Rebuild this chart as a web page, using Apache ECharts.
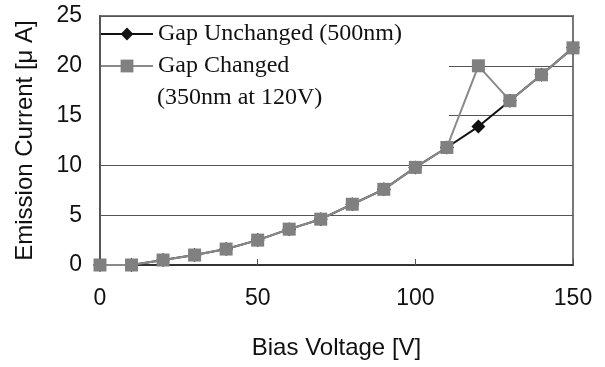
<!DOCTYPE html>
<html><head><meta charset="utf-8">
<script src="https://cdn.jsdelivr.net/npm/echarts@6/dist/echarts.min.js"></script>
<style>html,body{margin:0;padding:0;background:#fff}#c{width:605px;height:367px}</style>
</head><body><div id="c"></div>
<script>
var voltages = [0,10,20,30,40,50,60,70,80,90,100,110,120,130,140,150];
var gapUnchanged = [0,0,0.5,1.0,1.6,2.5,3.6,4.6,6.1,7.6,9.8,11.8,13.9,16.5,19.1,21.8];
var gapChanged   = [0,0,0.5,1.0,1.6,2.5,3.6,4.6,6.1,7.6,9.8,11.8,20.0,16.5,19.1,21.8];
var seriesNames = ['Gap Unchanged (500nm)', 'Gap Changed'];
var secondLine = '(350nm at 120V)';
function pairs(xs, ys){ return xs.map(function(x,i){return [x, ys[i]];}); }
var legendText = {fontFamily: 'Liberation Serif', fontSize: 24, color: '#111'};
var chart = echarts.init(document.getElementById('c'));
chart.setOption({
  animation: false,
  grid: {left: 100, right: 32, top: 16, bottom: 102, show: true, borderColor: '#777', borderWidth: 2, backgroundColor: 'transparent'},
  xAxis: {type: 'value', min: 0, max: 150, interval: 50,
    name: 'Bias Voltage [V]', nameLocation: 'middle', nameGap: 71,
    nameTextStyle: {fontFamily: 'Liberation Sans', fontSize: 24, color: '#111'},
    axisLine: {lineStyle: {color: '#333', width: 2}},
    axisTick: {inside: true, length: 6, lineStyle: {color: '#555', width: 1}},
    axisLabel: {fontFamily: 'Liberation Sans', fontSize: 23, color: '#111', margin: 22},
    splitLine: {show: false}},
  yAxis: {type: 'value', min: 0, max: 25, interval: 5,
    name: 'Emission Current [\u03bc A]', nameLocation: 'middle', nameGap: 63,
    nameTextStyle: {fontFamily: 'Liberation Sans', fontSize: 24, color: '#111'},
    axisLine: {lineStyle: {color: '#555', width: 2}},
    axisTick: {inside: true, length: 5, lineStyle: {color: '#555'}},
    axisLabel: {fontFamily: 'Liberation Sans', fontSize: 23, color: '#111', margin: 18},
    splitLine: {show: true, lineStyle: {color: '#555', width: 1}}},
  legend: [
    {left: 100, top: 22, padding: 0, itemWidth: 52, itemHeight: 16, data: [seriesNames[0]], selectedMode: false, textStyle: legendText},
    {left: 100, top: 54, padding: 0, itemWidth: 52, itemHeight: 16, data: [seriesNames[1]], selectedMode: false, textStyle: legendText}
  ],
  graphic: [
    {type: 'rect', shape: {x: 101, y: 17, width: 348, height: 103}, style: {fill: '#fff'}, z: 1, silent: true},
    {type: 'text', left: 157, top: 86, z: 5, style: {text: secondLine, font: '24px "Liberation Serif"', fill: '#111'}}
  ],
  series: [
    {name: seriesNames[0], type: 'line', data: pairs(voltages, gapUnchanged), symbol: 'diamond', symbolSize: 14,
     itemStyle: {color: '#111'}, lineStyle: {color: '#111', width: 2}, z: 3},
    {name: seriesNames[1], type: 'line', data: pairs(voltages, gapChanged), symbol: 'rect', symbolSize: 13,
     itemStyle: {color: '#808080'}, lineStyle: {color: '#8a8a8a', width: 2}, z: 4}
  ]
});
</script></body></html>
